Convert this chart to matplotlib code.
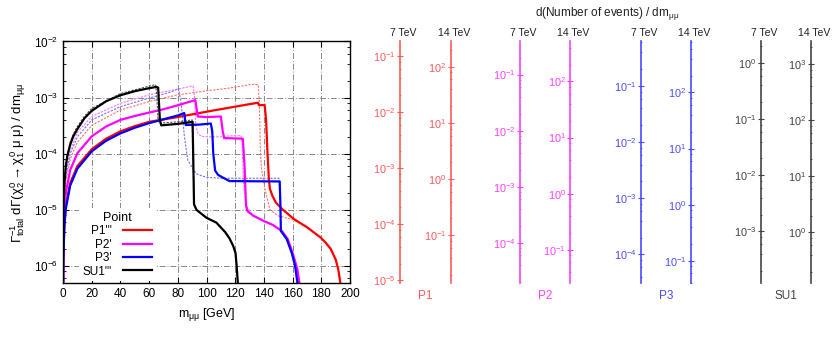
import matplotlib
matplotlib.use('Agg')
import matplotlib.pyplot as plt
from matplotlib.ticker import LogLocator, NullFormatter, MultipleLocator

plt.rcParams['font.family'] = ['Liberation Sans', 'DejaVu Sans']
plt.rcParams['mathtext.fontset'] = 'custom'
plt.rcParams['mathtext.rm'] = 'Liberation Sans'
plt.rcParams['mathtext.it'] = 'Liberation Sans'
plt.rcParams['mathtext.bf'] = 'Liberation Sans:bold'

# m_mumu [GeV] and normalised differential width
p1_m = [0.05, 0.3, 1, 2, 5, 10, 20, 30, 40, 50, 60, 80, 100, 120, 135.8, 136.5, 140.5, 141.5,
        142.5, 143.5, 144.2, 146, 148.3, 152.9, 161, 170, 179.5, 183, 186.6, 190, 191.8, 193.2, 193.6]
p1_y = [3e-7, 1.8e-6, 6e-6, 1.2e-5, 3e-5, 6e-5, 1.2e-4, 1.85e-4, 2.5e-4, 3.1e-4, 3.7e-4, 4.5e-4,
        5.6e-4, 6.9e-4, 8.1e-4, 7.3e-4, 7.4e-4, 4e-4, 1.0e-4, 3.4e-5, 2.35e-5, 1.75e-5, 1.35e-5,
        1.02e-5, 6.8e-6, 4.9e-6, 3.2e-6, 2.6e-6, 2.0e-6, 1.3e-6, 8.7e-7, 5.1e-7, 3e-7]

p1d_m = [0.05, 0.3, 1, 2, 5, 10, 20, 40, 60, 80, 100, 116, 131.6, 136, 136.8, 137.6, 138.4, 140.7,
         144.2, 150, 158, 161, 170, 179.5, 186.6, 190, 191.8, 193.2, 193.6]
p1d_y = [8e-7, 4.8e-6, 1.6e-5, 3.2e-5, 8e-5, 1.6e-4, 3.2e-4, 6e-4, 8.5e-4, 1.12e-3, 1.32e-3, 1.48e-3,
         1.72e-3, 1.7e-3, 8e-4, 1e-4, 5.2e-5, 2.35e-5, 1.0e-5, 7.8e-6, 6.9e-6, 6.5e-6, 4.8e-6,
         3.2e-6, 2.0e-6, 1.3e-6, 8.7e-7, 5.1e-7, 3e-7]

p2_m = [0.05, 0.3, 1, 2, 5, 10, 20, 30, 40, 50, 60, 70, 80, 88, 92.2, 93.9, 100, 110, 111.2, 112.3,
        125.3, 126.5, 127.5, 128.5, 132.4, 140, 146, 152.5, 156.6, 160, 163.3, 164.7, 165.3]
p2_y = [5e-7, 3e-6, 1e-5, 2.05e-5, 5.1e-5, 1.02e-4, 2.04e-4, 3.05e-4, 4e-4, 4.7e-4, 5.4e-4, 6.2e-4,
        7.3e-4, 8.4e-4, 9.0e-4, 4.6e-4, 4.5e-4, 4.6e-4, 2.6e-4, 1.9e-4, 1.85e-4, 6e-5, 1.2e-5,
        9.5e-6, 7.9e-6, 6.3e-6, 5.4e-6, 4.2e-6, 3.0e-6, 1.7e-6, 8.7e-7, 5e-7, 3e-7]

p2d_m = [0.05, 0.3, 1, 2, 5, 10, 20, 40, 60, 80, 90.5, 91.5, 92.5, 94, 96.2, 100, 110, 118, 124,
         124.8, 125.8, 127.5, 132.4, 140, 146, 152.5, 156.6, 160, 163.3, 164.7, 165.3]
p2d_y = [1.15e-6, 7e-6, 2.3e-5, 4.6e-5, 1.15e-4, 2.4e-4, 4.6e-4, 7.9e-4, 1.12e-3, 1.42e-3, 1.62e-3,
         1.2e-3, 3.2e-4, 2.3e-4, 2.05e-4, 2.0e-4, 2.0e-4, 2.1e-4, 2.1e-4, 1.5e-4, 3e-5, 1.2e-5,
         7.9e-6, 6.3e-6, 5.4e-6, 4.2e-6, 3.0e-6, 1.7e-6, 8.7e-7, 5e-7, 3e-7]

p3_m = [0.05, 0.3, 1, 2, 5, 10, 20, 30, 40, 50, 60, 70, 80, 84.5, 85.5, 95, 103, 104, 104.7, 106,
        108, 111, 116, 151, 151.5, 151.8, 155.9, 159.4, 161.7, 163.3, 163.7]
p3_y = [2.6e-7, 1.6e-6, 5.3e-6, 1.06e-5, 2.7e-5, 5.4e-5, 1.1e-4, 1.7e-4, 2.3e-4, 2.9e-4, 3.5e-4,
        4.1e-4, 4.8e-4, 5.3e-4, 3.25e-4, 3.3e-4, 3.45e-4, 2.5e-4, 1.0e-4, 5e-5, 4.2e-5, 3.8e-5,
        3.25e-5, 3.2e-5, 1.2e-5, 4.2e-6, 3.0e-6, 1.7e-6, 1.0e-6, 5.1e-7, 3e-7]

p3d_m = [0.05, 0.3, 1, 2, 5, 10, 20, 40, 60, 75, 80.5, 82.3, 83.5, 84.6, 87, 92.7, 99.6, 110,
         150.5, 151.3, 151.8, 155.9, 159.4, 161.7, 163.3, 163.7]
p3d_y = [1e-6, 6e-6, 2e-5, 4e-5, 1e-4, 2e-4, 4e-4, 6.9e-4, 9.8e-4, 1.25e-3, 1.45e-3, 8e-4, 4e-4,
         2e-4, 7.6e-5, 4.4e-5, 3.8e-5, 3.65e-5, 3.65e-5, 1.2e-5, 4.2e-6, 3.0e-6, 1.7e-6, 1.0e-6,
         5.1e-7, 3e-7]

su1_m = [0.05, 0.3, 1, 2, 3, 5, 7, 10, 15, 20, 30, 40, 50, 60, 65, 66.3, 67.5, 68.5, 80, 90.3, 90.9,
         91.3, 93, 95.4, 100, 106.9, 113, 116, 118.5, 120.2, 121, 121.8, 122.1]
su1_y = [1.5e-6, 9e-6, 3.1e-5, 6.1e-5, 9e-5, 1.45e-4, 2.0e-4, 2.75e-4, 4.3e-4, 5.8e-4, 8.6e-4,
         1.1e-3, 1.3e-3, 1.47e-3, 1.55e-3, 1.5e-3, 4e-4, 3.2e-4, 3.4e-4, 3.7e-4, 5e-5, 1.25e-5,
         1.0e-5, 8.9e-6, 7.2e-6, 5.9e-6, 4.0e-6, 3.1e-6, 2.3e-6, 1.7e-6, 1.0e-6, 5e-7, 3e-7]

su1d_m = [0.05, 0.3, 1, 2, 3, 5, 7, 10, 15, 20, 40, 60, 64.5, 65.3, 66.2, 67, 80, 90, 90.9, 91.3,
          93, 95.4, 100, 106.9, 113, 116, 118.5, 120.2, 121, 121.8, 122.1]
su1d_y = [1.7e-6, 1e-5, 3.4e-5, 6.7e-5, 1.0e-4, 1.6e-4, 2.2e-4, 3.05e-4, 4.7e-4, 6.4e-4, 1.18e-3,
          1.6e-3, 1.7e-3, 1.1e-3, 4e-4, 3.5e-4, 3.7e-4, 4.0e-4, 5e-5, 1.25e-5, 1.0e-5, 8.9e-6,
          7.2e-6, 5.9e-6, 4.0e-6, 3.1e-6, 2.3e-6, 1.7e-6, 1.0e-6, 5e-7, 3e-7]

labels = ["P1'''", "P2'", "P3'", "SU1'''"]

# event-count axes: log10 of the factor relative to the left axis
points = ['P1', 'P2', 'P3', 'SU1']
scale_7tev = [1.26, 1.59, 1.796, 2.386]
scale_14tev = [4.455, 4.712, 4.908, 5.404]
axis_colors = ['#ff5a5a', '#ff40ff', '#4a4aff', '#444444']

ylo, yhi = 4.9e-7, 1e-2

fig = plt.figure(figsize=(8.39, 3.40), dpi=100)
ax = fig.add_axes([0.0751, 0.1668, 0.3421, 0.7112])

ax.plot(p1d_m, p1d_y, color='#ff7070', lw=0.8, ls=(0, (2, 1.2)))
ax.plot(p2d_m, p2d_y, color='#ff70ff', lw=0.8, ls=(0, (2, 1.2)))
ax.plot(p3d_m, p3d_y, color='#7070ff', lw=0.8, ls=(0, (2, 1.2)))
ax.plot(su1d_m, su1d_y, color='#505050', lw=0.8, ls=(0, (2, 1.2)))
ax.plot(p1_m, p1_y, color='#ff0000', lw=1.6, label=labels[0])
ax.plot(p2_m, p2_y, color='#ff00ff', lw=1.6, label=labels[1])
ax.plot(p3_m, p3_y, color='#0000ff', lw=1.6, label=labels[2])
ax.plot(su1_m, su1_y, color='#000000', lw=1.6, label=labels[3])

ax.set_yscale('log')
ax.set_xlim(0, 200)
ax.set_ylim(ylo, yhi)
ax.xaxis.set_major_locator(MultipleLocator(20))
ax.yaxis.set_major_locator(LogLocator(base=10, numticks=10))
ax.yaxis.set_minor_locator(LogLocator(base=10, subs=(2, 4, 6, 8), numticks=10))
ax.yaxis.set_minor_formatter(NullFormatter())
ax.tick_params(which='both', direction='in', top=True, right=True, labelsize=8.5)
ax.tick_params(which='major', length=4)
ax.tick_params(which='minor', length=2)
ax.set_axisbelow(True)
ax.grid(True, which='major', color='#888888', lw=0.7, ls=(0, (6, 2, 1, 2)))
for s in ax.spines.values():
    s.set_linewidth(1.0)

ax.set_xlabel(r'm$_{\mu\mu}$ [GeV]', fontsize=9, labelpad=4)
ax.set_ylabel(r'$\Gamma^{-1}_{\rm total}$ d$\Gamma$($\chi^0_2 \rightarrow \chi^0_1$ $\mu$ $\mu$) / dm$_{\mu\mu}$',
              fontsize=9.5, labelpad=4)

leg = ax.legend(loc='upper left', bbox_to_anchor=(0.055, 0.31), title='Point', fontsize=8.5,
                title_fontsize=9, markerfirst=False, handlelength=2.4, handletextpad=1.0,
                labelspacing=0.12, borderpad=0.3, borderaxespad=0, frameon=True, fancybox=False)
leg.get_frame().set_facecolor('white')
leg.get_frame().set_edgecolor('none')
leg.get_frame().set_alpha(1)
leg.set_zorder(1.5)

# secondary event-count axes on the right
spine_px = [(400, 450.7), (520, 570), (640.7, 690.7), (760.7, 810.7)]
W = 839.0
for i, name in enumerate(points):
    for j, f in enumerate([scale_7tev[i], scale_14tev[i]]):
        xpx = spine_px[i][j]
        a = fig.add_axes([xpx / W, 0.1668, 0.0001, 0.7112])
        a.set_yscale('log')
        a.set_ylim(ylo * 10 ** f, yhi * 10 ** f)
        a.yaxis.set_major_locator(LogLocator(base=10, numticks=10))
        a.yaxis.set_minor_locator(LogLocator(base=10, subs=(2, 4, 6, 8), numticks=10))
        a.yaxis.set_minor_formatter(NullFormatter())
        a.set_xticks([])
        for k in ['right', 'top', 'bottom']:
            a.spines[k].set_visible(False)
        a.spines['left'].set_color(axis_colors[i])
        a.spines['left'].set_linewidth(1.2)
        a.patch.set_visible(False)
        a.tick_params(which='both', direction='inout', colors=axis_colors[i], labelsize=7.8, pad=1)
        a.tick_params(which='major', length=4)
        a.tick_params(which='minor', length=2)
        fig.text((xpx + 3) / W, 1 - 33 / 340.0, ['7 TeV', '14 TeV'][j], ha='center', va='center',
                 fontsize=7.5, color='#222222')
    mid = (spine_px[i][0] + spine_px[i][1]) / 2
    fig.text(mid / W, 1 - 296 / 340.0, name, ha='center', va='center', fontsize=8.5,
             color=axis_colors[i])

fig.text(607 / W, 1 - 14 / 340.0, r'd(Number of events) / dm$_{\mu\mu}$', ha='center',
         va='center', fontsize=8.5, color='#222222')

fig.savefig('out.png', dpi=100)
